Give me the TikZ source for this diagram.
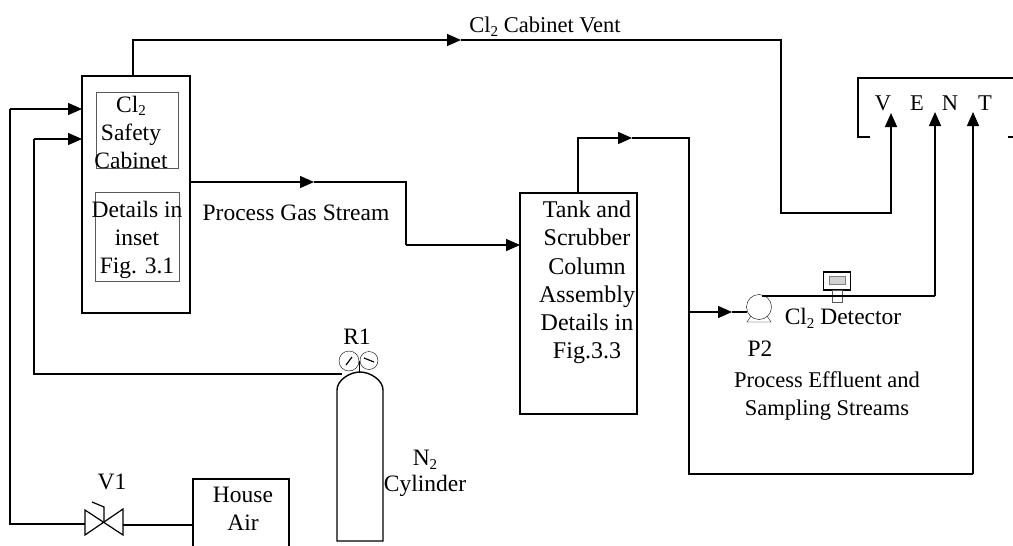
\documentclass[tikz,border=0pt]{standalone}
\usepackage{fontspec}
\setmainfont{Liberation Serif}
\usetikzlibrary{arrows.meta}
\tikzstyle{pipe}=[line width=1.4pt]
\tikzstyle{flow}=[line width=1.4pt, -{Triangle[length=14pt,width=12pt]}]
\tikzstyle{box}=[shape=rectangle, draw, inner sep=0]
\tikzstyle{lbl}=[inner sep=0, align=center, font=\fontsize{23.5}{28}\selectfont]
\tikzstyle{lblsm}=[lbl, font=\fontsize{22.5}{28}\selectfont]
\newcommand{\lowtwo}{\raisebox{-.35ex}{\fontsize{15}{15}\selectfont 2}}

\begin{document}
\begin{tikzpicture}[x=1pt, y=-1pt]
\clip (0,0) rectangle (1013,546);
%\draw[help lines,step=50pt] (0,0) grid (1013,546);
% boxes
\node at (136,194.5)[box, line width=2.6pt, minimum width=108pt, minimum height=237pt](cab){};
\node at (137,130)[box, gray!70!black, minimum width=82pt, minimum height=76pt](cabin){};
\node at (137,236.5)[box, gray!70!black, minimum width=84pt, minimum height=89pt](inset){};
\node at (578.5,303.5)[box, line width=1.6pt, minimum width=117pt, minimum height=221pt](tank){};
\node at (241,522)[box, line width=1.4pt, minimum width=96pt, minimum height=86pt](air){};
\node at (837,281)[box, line width=1.4pt, minimum width=27pt, minimum height=18pt](det){};
\node at (837,296)[box, gray!70!black, minimum width=10pt, minimum height=12pt](detstem){};
\node at (837,280)[box, gray, fill=gray!35, minimum width=16pt, minimum height=8pt](detface){};
\node at (759,307)[shape=circle, draw, inner sep=0, minimum size=25pt](pump){};
\node at (349,361)[shape=circle, draw, inner sep=0, minimum size=20pt](g1){};
\node at (369,360.5)[shape=circle, draw, inner sep=0, minimum size=18pt](g2){};
% corners
\coordinate (a0) at (133,76);
\coordinate (a1) at (133,40);
\coordinate (a2) at (461,40);
\coordinate (a3) at (781,40);
\coordinate (a4) at (781,213);
\coordinate (a5) at (891,213);
\coordinate (a6) at (891,113);
\coordinate (b0) at (190,182);
\coordinate (b1) at (314,182);
\coordinate (b2) at (406,182);
\coordinate (b3) at (406,245);
\coordinate (b4) at (520,245);
\coordinate (c0) at (578,193);
\coordinate (c1) at (578,138);
\coordinate (c2) at (632,138);
\coordinate (c3) at (689,138);
\coordinate (c4) at (689,474);
\coordinate (c5) at (973,474);
\coordinate (c6) at (973,112);
\coordinate (d0) at (689,312);
\coordinate (d1) at (732,312);
\coordinate (d2) at (747,312);
\coordinate (e0) at (762,296);
\coordinate (e1) at (935,296);
\coordinate (e2) at (935,112);
\coordinate (f0) at (85,524);
\coordinate (f1) at (10,524);
\coordinate (f2) at (10,109);
\coordinate (f3) at (82,109);
\coordinate (f4) at (123,525);
\coordinate (f5) at (193,525);
\coordinate (h0) at (342,374);
\coordinate (h1) at (34,374);
\coordinate (h2) at (34,139);
\coordinate (h3) at (82,139);
% lines
\draw[flow] (a0)--(a1)--(a2);
\draw[flow] (a2)--(a3)--(a4)--(a5)--(a6);
\draw[flow] (b0)--(b1);
\draw[pipe] (b1)--(b2)--(b3);
\draw[flow] (b3)--(b4);
\draw[flow] (c0)--(c1)--(c2);
\draw[pipe] (c2)--(c3)--(c4)--(c5);
\draw[flow] (c5)--(c6);
\draw[flow] (d0)--(d1);
\draw[pipe] (d1)--(d2);
\draw[pipe] (e0)--(e1);
\draw[flow] (e1)--(e2);
\draw[pipe] (f0)--(f1)--(f2);
\draw[flow] (f2)--(f3);
\draw[pipe] (f4)--(f5);
\draw[pipe] (h0)--(h1)--(h2);
\draw[flow] (h2)--(h3);
% vent hood
\draw[line width=1.5pt] (870,137)--(858,137)--(858,78)--(1013,78);
\draw[line width=1.5pt] (1008,137)--(1013,137);
% valve
\draw[line width=1.2pt] (85,510)--(123,535)--(123,509)--(85,535)--cycle;
\draw[line width=1.2pt] (104,522)--(104,507)--(92,502);
% pump feet
\draw (751,316)--(747,322)--(771,322)--(767,316);
% cylinder
\draw[line width=1.4pt] (337,541)--(337,390) .. controls (337,380) and (350,372) .. (360,372) .. controls (370,372) and (383,380) .. (383,390)--(383,541)--cycle;
\draw (359,361)--(359,372);
\draw[line width=1.2pt] (346,365)--(352,357);
\draw[line width=1.2pt] (364,358)--(374,362);
% labels
\node at (545,27)[lblsm](t1){Cl\lowtwo{} Cabinet Vent};
\node at (131,132)[lbl](t2){Cl\lowtwo\\Safety\\Cabinet};
\node at (137,240)[lbl](t3){Details in\\inset\\Fig. 3.1};
\node at (296,213)[lbl](t4){Process Gas Stream};
\node at (587,282.5)[lbl, font=\fontsize{24}{28.2}\selectfont](t5){Tank and\\Scrubber\\Column\\Assembly\\Details in\\Fig.3.3};
\node at (843,318)[lbl](t6){Cl\lowtwo{} Detector};
\node at (760,349)[lbl](t7){P2};
\node at (827,396)[lblsm](t8){Process Effluent and\\Sampling Streams};
\node at (357,337)[lbl](t9){R1};
\node at (425,460)[lbl](t10){N\lowtwo};
\node at (425,486)[lbl](t11){Cylinder};
\node at (112,482)[lbl](t12){V1};
\node at (243,509)[lbl](t13){House\\Air};
\node at (883,103)[lblsm](v){V};
\node at (917,103)[lblsm](e){E};
\node at (950,103)[lblsm](n){N};
\node at (985,103)[lblsm](t){T};
\end{tikzpicture}
\end{document}
